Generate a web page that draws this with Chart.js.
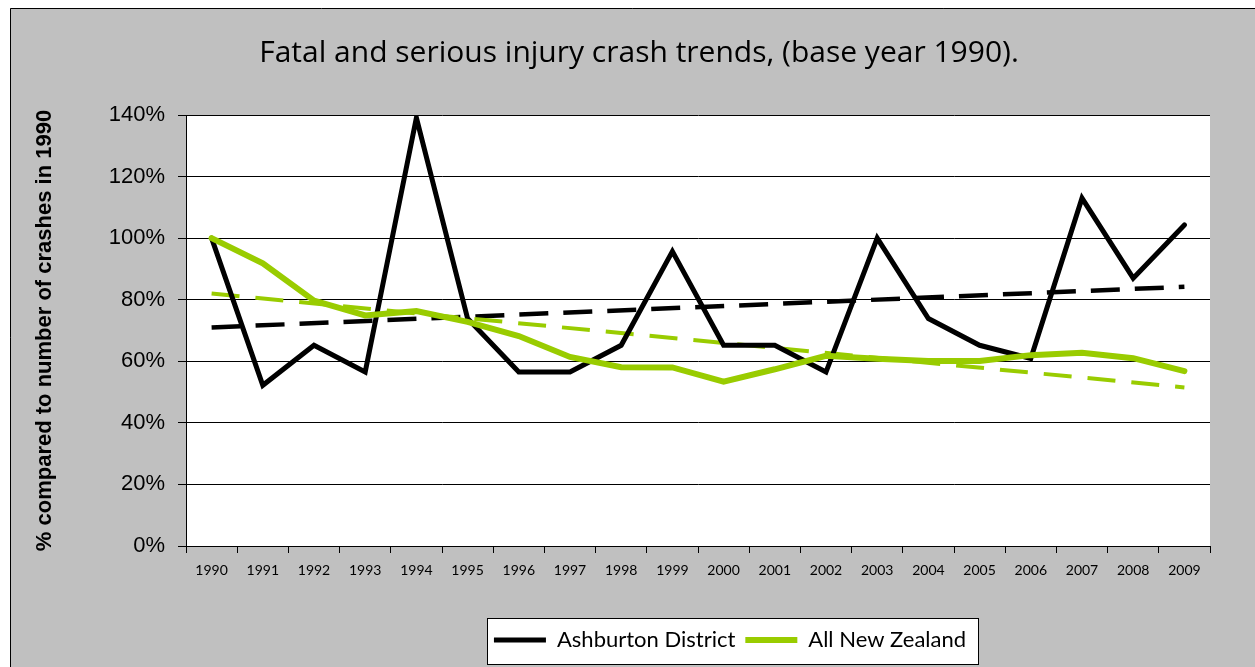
<!DOCTYPE html>
<html>
<head>
<meta charset="utf-8">
<script src="https://cdn.jsdelivr.net/npm/chart.js@4/dist/chart.umd.min.js"></script>
<style>
  html, body { margin: 0; padding: 0; background: #fff; }
  #wrap { width: 1255px; height: 667px; }
</style>
</head>
<body>
<div id="wrap"><canvas id="crashChart" width="1255" height="667"></canvas></div>
<script>
  const years = ["1990", "1991", "1992", "1993", "1994", "1995", "1996", "1997", "1998", "1999",
                 "2000", "2001", "2002", "2003", "2004", "2005", "2006", "2007", "2008", "2009"];
  const ashburton = [100, 52.2, 65.2, 56.5, 139.1, 73.9, 56.5, 56.5, 65.2, 95.7,
                     65.2, 65.2, 56.5, 100, 73.9, 65.2, 60.9, 113.0, 87.0, 104.3];
  const allNZ = [100, 91.8, 79.7, 74.9, 76.3, 72.8, 68.2, 61.4, 58.1, 58.0,
                 53.4, 57.4, 61.8, 60.8, 60.1, 60.1, 62.0, 62.8, 61.0, 56.8];
  // trendlines: only the end values, the line spans the gaps
  const ashTrend = [71.0, null, null, null, null, null, null, null, null, null,
                    null, null, null, null, null, null, null, null, null, 84.2];
  const nzTrend = [82.0, null, null, null, null, null, null, null, null, null,
                   null, null, null, null, null, null, null, null, null, 51.5];
  const yTicks = [0, 20, 40, 60, 80, 100, 120, 140];

  const GREEN = "#99cc00";

  const frame = {
    id: "frame",
    afterLayout(chart) {
      chart.titleBlock.left += 34; chart.titleBlock.right += 34;
      chart.legend.left += 125; chart.legend.right += 125;
    },
    beforeDraw(chart) {
      const { ctx, chartArea: a } = chart;
      ctx.save();
      ctx.fillStyle = "#fff";
      ctx.fillRect(0, 0, chart.width, chart.height);
      ctx.fillStyle = "#c0c0c0";
      ctx.fillRect(10, 8, chart.width, chart.height);
      ctx.strokeStyle = "#000";
      ctx.lineWidth = 1;
      ctx.beginPath();
      ctx.moveTo(10.5, chart.height);
      ctx.lineTo(10.5, 8.5);
      ctx.lineTo(chart.width, 8.5);
      ctx.stroke();
      ctx.fillStyle = "#fff";
      ctx.fillRect(a.left, a.top, a.right - a.left, a.bottom - a.top);
      // legend box
      const hb = chart.legend.legendHitBoxes;
      if (hb && hb.length) {
        const last = hb[hb.length - 1];
        const cy = hb[0].top + hb[0].height / 2;
        const x0 = Math.round(hb[0].left - 7) + 0.5;
        const x1 = Math.round(last.left + last.width + 12) + 0.5;
        const y0 = Math.round(cy - 22) + 0.5;
        const y1 = Math.round(cy + 24) + 0.5;
        ctx.fillStyle = "#fff";
        ctx.fillRect(x0, y0, x1 - x0, y1 - y0);
        ctx.strokeRect(x0, y0, x1 - x0, y1 - y0);
      }
      ctx.restore();
    }
  };

  new Chart(document.getElementById("crashChart"), {
    type: "line",
    data: {
      labels: years,
      datasets: [
        { label: "Ashburton District", data: ashburton, borderColor: "#000", backgroundColor: "#000",
          borderWidth: 5, borderCapStyle: "round", borderJoinStyle: "miter", order: 1 },
        { label: "All New Zealand", data: allNZ, borderColor: GREEN, backgroundColor: GREEN,
          borderWidth: 6, borderCapStyle: "round", borderJoinStyle: "miter", order: 0 },
        { label: "trend Ashburton", data: ashTrend, borderColor: "#000", borderWidth: 4.5,
          borderDash: [29, 15], spanGaps: true, order: 3 },
        { label: "trend NZ", data: nzTrend, borderColor: GREEN, borderWidth: 4,
          borderDash: [28, 16], spanGaps: true, order: 2 }
      ]
    },
    options: {
      responsive: false,
      animation: false,
      events: [],
      elements: { point: { radius: 0 }, line: { tension: 0 } },
      layout: { padding: { left: 0, right: 45, top: 0, bottom: 6 } },
      plugins: {
        title: {
          display: true,
          text: "Fatal and serious injury crash trends, (base year 1990).",
          color: "#000",
          font: { family: "Open Sans", size: 30, weight: "normal" },
          padding: { top: 35, bottom: 44 }
        },
        legend: {
          position: "bottom",
          labels: {
            color: "#000",
            font: { family: "Lato", size: 22 },
            padding: 10,
            usePointStyle: true,
            pointStyle: "line",
            pointStyleWidth: 52,
            filter: item => item.datasetIndex < 2,
            sort: (a, b) => a.datasetIndex - b.datasetIndex
          }
        },
        tooltip: { enabled: false }
      },
      scales: {
        x: {
          offset: true,
          grid: { offset: true, drawOnChartArea: false, color: "#000", tickLength: 7 },
          border: { color: "#000" },
          ticks: { color: "#000", font: { family: "Lato", size: 14 }, padding: 9,
                   maxRotation: 0, autoSkip: false },
          afterFit: s => { s.height = 73; }
        },
        y: {
          min: 0,
          max: 140,
          afterBuildTicks: s => { s.ticks = yTicks.map(v => ({ value: v })); },
          grid: { color: "#000", tickLength: 8 },
          border: { color: "#000" },
          ticks: { color: "#000", font: { family: "Liberation Sans", size: 22 }, padding: 13,
                   callback: v => v + "%" },
          title: {
            display: true,
            text: "% compared to number of crashes in 1990",
            color: "#000",
            font: { family: "Liberation Sans", size: 22, weight: "bold" },
            padding: { top: 32, bottom: 0 }
          },
          afterFit: s => { s.width = 186; }
        }
      }
    },
    plugins: [frame]
  });
</script>
</body>
</html>
